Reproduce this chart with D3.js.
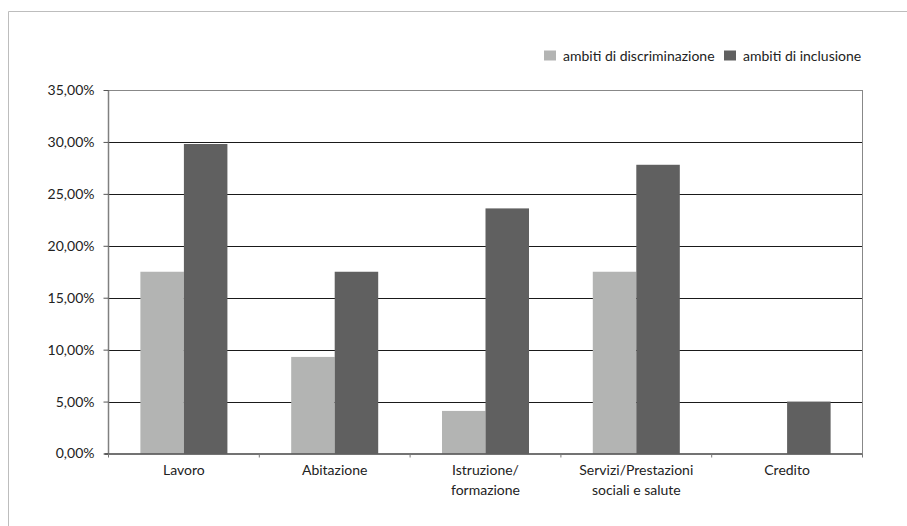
<!DOCTYPE html>
<html>
<head>
<meta charset="utf-8">
<script src="https://cdn.jsdelivr.net/npm/d3@7"></script>
<style>
  html, body { margin: 0; padding: 0; background: #fff; }
  svg { display: block; }
  text { font-family: "Lato", "Liberation Sans", sans-serif; font-size: 14px; fill: #222; }
</style>
</head>
<body>
<svg id="chart" width="907" height="526"></svg>
<script>
const categories = [["Lavoro"], ["Abitazione"], ["Istruzione/", "formazione"], ["Servizi/Prestazioni", "sociali e salute"], ["Credito"]];
const seriesNames = ["ambiti di discriminazione", "ambiti di inclusione"];
const discriminazione = [0.175, 0.093, 0.041, 0.175, 0];
const inclusione = [0.298, 0.175, 0.236, 0.278, 0.050];
const yTicks = [0, 0.05, 0.10, 0.15, 0.20, 0.25, 0.30, 0.35];
const colors = ["#b3b4b3", "#606060"];

const svg = d3.select("#chart");
const W = 907, H = 526;
const m = { left: 108.5, right: 862.5, top: 90, bottom: 453.5 };

// outer frame (top and left only visible)
svg.append("line").attr("x1", 8.5).attr("x2", W).attr("y1", 11.5).attr("y2", 11.5).attr("stroke", "#bdbdbd");
svg.append("line").attr("x1", 8.5).attr("x2", 8.5).attr("y1", 11.5).attr("y2", H).attr("stroke", "#bdbdbd");

const keys = categories.map(c => c.join(" "));
const x0 = d3.scaleBand().domain(keys).range([m.left, m.right]).paddingInner(0).paddingOuter(0);
const x1 = d3.scaleBand().domain(seriesNames).range([0, x0.bandwidth()]).paddingInner(0).paddingOuter(0.733);
const y = d3.scaleLinear().domain([0, 0.35]).range([m.bottom, m.top]);

const locale = d3.formatLocale({ decimal: ",", thousands: ".", grouping: [3], currency: ["", "€"] });
const fmt = locale.format(".2%");

// gridlines
svg.append("g").selectAll("line").data(yTicks.filter(t => t > 0 && t < 0.35)).join("line")
  .attr("x1", m.left).attr("x2", m.right)
  .attr("y1", d => Math.round(y(d)) + 0.5).attr("y2", d => Math.round(y(d)) + 0.5)
  .attr("stroke", "#1a1a1a").attr("stroke-width", 1);

// plot border top and right
svg.append("line").attr("x1", m.left).attr("x2", m.right).attr("y1", y(0.35) + 0.5).attr("y2", y(0.35) + 0.5).attr("stroke", "#888");
svg.append("line").attr("x1", m.right).attr("x2", m.right).attr("y1", y(0.35)).attr("y2", m.bottom).attr("stroke", "#888");

// bars
const rows = keys.map((k, i) => ({ key: k, vals: [discriminazione[i], inclusione[i]] }));
const g = svg.append("g");
rows.forEach(r => {
  r.vals.forEach((v, j) => {
    if (v <= 0) return;
    g.append("rect")
      .attr("x", x0(r.key) + x1(seriesNames[j]))
      .attr("width", x1.bandwidth())
      .attr("y", y(v))
      .attr("height", y(0) - y(v))
      .attr("fill", colors[j]);
  });
});

// y axis
const yAxis = d3.axisLeft(y).tickValues(yTicks).tickFormat(fmt).tickSize(5).tickPadding(9);
const ya = svg.append("g").attr("transform", `translate(${m.left},0)`).call(yAxis);
ya.select(".domain").attr("stroke", "#808080").attr("stroke-width", 1.5).attr("d", `M0,${m.top}V${m.bottom}`);
ya.selectAll(".tick line").attr("stroke", "#555");
ya.selectAll(".tick text").attr("font-size", 14).attr("font-family", "Lato, 'Liberation Sans', sans-serif").attr("fill", "#222");

// x axis baseline and ticks
const xa = svg.append("g");
xa.append("line").attr("x1", m.left - 4).attr("x2", m.right).attr("y1", m.bottom + 0.5).attr("y2", m.bottom + 0.5).attr("stroke", "#444").attr("stroke-width", 1.5);
const bounds = keys.map(k => x0(k)).concat([m.right]);
xa.selectAll(".xt").data(bounds).join("line")
  .attr("x1", d => d).attr("x2", d => d)
  .attr("y1", m.bottom).attr("y2", m.bottom + 4)
  .attr("stroke", "#777");

// x labels
categories.forEach((c, i) => {
  const cx = x0(keys[i]) + x0.bandwidth() / 2;
  const t = svg.append("text").attr("text-anchor", "middle").attr("x", cx).attr("y", 475);
  c.forEach((line, li) => {
    t.append("tspan").attr("x", cx).attr("dy", li === 0 ? 0 : 20).text(line);
  });
});

// legend
const legX = [544, 724];
seriesNames.forEach((s, i) => {
  svg.append("rect").attr("x", legX[i]).attr("y", 50.5).attr("width", 12).attr("height", 10).attr("fill", colors[i]);
  svg.append("text").attr("x", legX[i] + 19).attr("y", 60.5).text(s);
});
</script>
</body>
</html>
